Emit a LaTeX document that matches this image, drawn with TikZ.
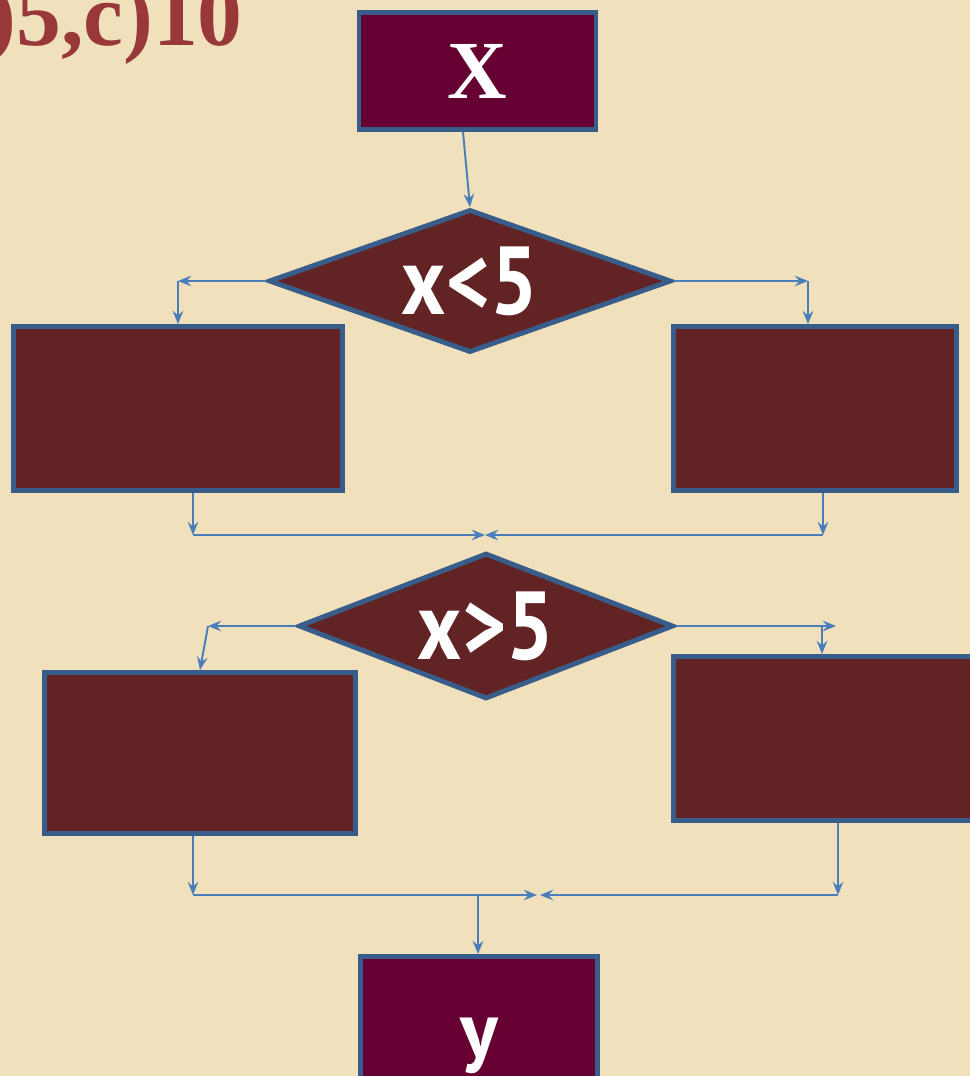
\documentclass[tikz,border=0pt]{standalone}
\usepackage{fontspec}
\setmainfont{Liberation Serif}
\newfontfamily\condfont{PT Sans}
\usetikzlibrary{arrows.meta,shapes.geometric}

\definecolor{parch}{RGB}{240,224,188}
\definecolor{brick}{RGB}{98,35,37}
\definecolor{plum}{RGB}{102,0,51}
\definecolor{edgeblue}{RGB}{56,93,138}
\definecolor{linkblue}{RGB}{74,126,187}
\definecolor{titlered}{RGB}{152,56,56}

\newcommand{\narrow}[1]{\scalebox{0.87}[1]{#1}}

\begin{document}
\begin{tikzpicture}[x=0.02cm, y=-0.02cm,
  blk/.style={draw=edgeblue, line width=2.8pt, fill=#1, inner sep=0pt},
  dec/.style={blk=brick, diamond, text=white, font=\condfont\bfseries\fontsize{55}{55}\selectfont},
  io/.style={blk=plum, rectangle, text=white, minimum width=4.74cm},
  arr/.style={draw=linkblue, line width=1.1pt, -{Stealth[length=7.5pt, width=6pt, inset=2.6pt]}}
]
\fill[parch] (0,0) rectangle (970,1076);
\useasboundingbox (0,0) rectangle (970,1076);

\node[anchor=base east, text=titlered, font=\bfseries\fontsize{51}{51}\selectfont] (task) at (249,45) {b)5,c)10};

% blocks
\node[io, minimum height=2.34cm, font=\bfseries\fontsize{47}{47}\selectfont] (xin) at (477.5,71) {X};
\node[dec, minimum width=8.05cm, minimum height=2.86cm, aspect=2.76] (d1) at (470,281) {\narrow{x<5}};
\node[blk=brick, minimum width=6.58cm, minimum height=3.28cm] (b1) at (178,408.5) {};
\node[blk=brick, minimum width=5.66cm, minimum height=3.28cm] (b2) at (815,408.5) {};
\node[dec, minimum width=7.5cm, minimum height=2.92cm, aspect=2.5] (d2) at (486,626) {\narrow{x>5}};
\node[blk=brick, minimum width=6.22cm, minimum height=3.22cm] (b3) at (200,753) {};
\node[blk=brick, minimum width=6.66cm, minimum height=3.28cm] (b4) at (840,738.5) {};
\node[io, minimum height=3.58cm, font=\condfont\bfseries\fontsize{45}{45}\selectfont] (yout) at (479,1046) {y};

% bends
\coordinate (l1) at (178,281);
\coordinate (r1) at (808,281);
\coordinate (m1) at (485,535);
\coordinate (l1b) at (193,535);
\coordinate (r1b) at (823,535);
\coordinate (l2) at (208,626);
\coordinate (r2) at (836,626);
\coordinate (r2d) at (822,626);
\coordinate (l2b) at (193,895);
\coordinate (r2b) at (838,895);
\coordinate (jl) at (537,895);
\coordinate (jr) at (540,895);
\coordinate (jd) at (478,895);

\draw[arr] ([xshift=-0.29cm]xin.south) -- (d1.north);
\foreach \s/\t in {d1.west/l1, l1/b1.north, d1.east/r1, r1/{r1 |- b2.north},
  {b1.south -| l1b}/l1b, l1b/m1, {b2.south -| r1b}/r1b, r1b/m1,
  d2.west/l2, l2/b3.north, d2.east/r2, r2d/{r2d |- b4.north},
  {b3.south -| l2b}/l2b, l2b/jl, {b4.south -| r2b}/r2b, r2b/jr,
  jd/{jd |- yout.north}}
  \draw[arr] (\s) -- (\t);
\end{tikzpicture}
\end{document}
